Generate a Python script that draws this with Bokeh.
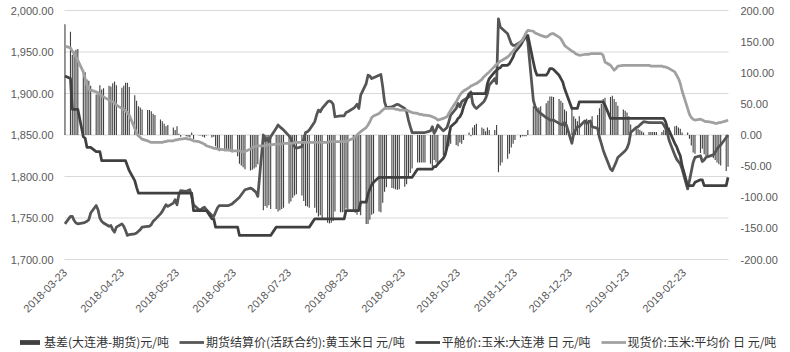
import pandas as pd
from math import pi
from bokeh.plotting import figure
from bokeh.core.properties import value
from bokeh.models import Range1d, Legend, LegendItem, ColumnDataSource
from bokeh.embed import file_html
from bokeh.resources import INLINE

# trading days (weekdays) 2018-03-23 .. 2019-03-19
dates = pd.bdate_range("2018-03-23", "2019-03-19")

tick_labels = ["2018-03-23", "2018-04-23", "2018-05-23", "2018-06-23", "2018-07-23",
               "2018-08-23", "2018-09-23", "2018-10-23", "2018-11-23", "2018-12-23",
               "2019-01-23", "2019-02-23"]
left_ticks = [1700, 1750, 1800, 1850, 1900, 1950, 2000]
right_ticks = [-200, -150, -100, -50, 0, 50, 100, 150, 200]

# 期货结算价(活跃合约):黄玉米 (元/吨) - one row per week (Fri, Mon, Tue, Wed, Thu)
futures = [
    1743, 1752, 1752, 1747, 1744,
    1743, 1744, 1745, 1746, 1748,
    1756, 1765, 1760, 1750, 1746,
    1744, 1740, 1741, 1736, 1733,
    1739, 1743, 1740, 1735, 1729,
    1730, 1731, 1732, 1734, 1736,
    1739, 1740, 1740, 1742, 1746,
    1748, 1755, 1758, 1762, 1766,
    1764, 1768, 1772, 1766, 1778,
    1783, 1782, 1783, 1784, 1776,
    1766, 1760, 1760, 1762, 1763,
    1760, 1753, 1752, 1757, 1762,
    1765, 1765, 1765, 1765, 1766,
    1767, 1773, 1775, 1778, 1781,
    1784, 1786, 1785, 1783, 1781,
    1776, 1850, 1843, 1846, 1842,
    1848, 1858, 1862, 1860, 1858,
    1856, 1849, 1846, 1840, 1836,
    1834, 1836, 1845, 1853, 1854,
    1856, 1866, 1874, 1880, 1878,
    1882, 1890, 1891, 1890, 1887,
    1872, 1873, 1873, 1873, 1877,
    1878, 1882, 1884, 1887, 1882,
    1898, 1912, 1922, 1921, 1918,
    1919, 1922, 1923, 1908, 1890,
    1883, 1884, 1885, 1886, 1887,
    1886, 1882, 1878, 1868, 1860,
    1853, 1853, 1853, 1853, 1853,
    1853, 1855, 1860, 1852, 1856,
    1862, 1855, 1857, 1859, 1866,
    1874, 1882, 1888, 1884, 1890,
    1892, 1896, 1902, 1888, 1884,
    1882, 1888, 1890, 1894, 1900,
    1910, 1918, 1912, 1990, 1980,
    1978, 1972, 1966, 1960, 1958,
    1958, 1962, 1964, 1968, 1970,
    1962, 1892, 1884, 1880, 1878,
    1876, 1871, 1870, 1868, 1868,
    1868, 1864, 1863, 1862, 1865,
    1862, 1840, 1852, 1856, 1860,
    1860, 1867, 1864, 1866, 1867,
    1860, 1858, 1847, 1840, 1832,
    1826, 1809, 1807, 1812, 1817,
    1823, 1829, 1831, 1834, 1840,
    1853, 1859, 1860, 1862, 1864,
    1866, 1865, 1865, 1865, 1865,
    1865, 1865, 1862, 1858, 1852,
    1843, 1826, 1821, 1818, 1815,
    1809, 1785, 1795, 1806, 1817,
    1823, 1825, 1818, 1820, 1823,
    1824, 1826, 1829, 1833, 1836,
    1838, 1847, 1850,
]

# 平舱价:玉米:大连港 (元/吨)
port = [
    1921, 1918, 1881, 1881, 1881,
    1881, 1848, 1846, 1835, 1835,
    1835, 1830, 1830, 1830, 1819,
    1819, 1819, 1819, 1819, 1819,
    1819, 1819, 1819, 1819, 1813,
    1807, 1795, 1787, 1780, 1780,
    1780, 1780, 1780, 1780, 1780,
    1780, 1780, 1780, 1780, 1780,
    1780, 1780, 1780, 1780, 1780,
    1780, 1780, 1780, 1780, 1780,
    1759, 1759, 1759, 1759, 1759,
    1759, 1749, 1749, 1739, 1739,
    1739, 1739, 1739, 1739, 1739,
    1739, 1739, 1729, 1729, 1729,
    1729, 1729, 1729, 1729, 1729,
    1729, 1729, 1729, 1729, 1729,
    1729, 1739, 1739, 1739, 1739,
    1739, 1739, 1739, 1739, 1739,
    1739, 1739, 1739, 1739, 1739,
    1739, 1749, 1749, 1749, 1749,
    1749, 1749, 1749, 1749, 1749,
    1749, 1749, 1749, 1749, 1759,
    1759, 1759, 1759, 1759, 1759,
    1769, 1769, 1779, 1785, 1790,
    1793, 1799, 1799, 1799, 1799,
    1799, 1799, 1799, 1799, 1799,
    1799, 1799, 1799, 1799, 1799,
    1799, 1809, 1809, 1809, 1809,
    1809, 1809, 1809, 1812, 1812,
    1815, 1822, 1826, 1835, 1848,
    1860, 1866, 1870, 1872, 1876,
    1884, 1900, 1900, 1900, 1900,
    1900, 1900, 1900, 1900, 1912,
    1918, 1926, 1928, 1930, 1931,
    1934, 1934, 1936, 1940, 1944,
    1950, 1958, 1962, 1966, 1968,
    1970, 1938, 1928, 1922, 1922,
    1922, 1922, 1925, 1930, 1930,
    1929, 1922, 1918, 1914, 1906,
    1900, 1882, 1882, 1882, 1882,
    1890, 1890, 1890, 1890, 1890,
    1890, 1890, 1890, 1890, 1890,
    1886, 1870, 1870, 1870, 1870,
    1870, 1870, 1870, 1870, 1870,
    1870, 1870, 1870, 1870, 1870,
    1870, 1870, 1870, 1870, 1870,
    1870, 1870, 1870, 1866, 1858,
    1855, 1840, 1836, 1830, 1825,
    1813, 1789, 1789, 1789, 1789,
    1793, 1796, 1796, 1789, 1789,
    1789, 1789, 1789, 1789, 1789,
    1789, 1789, 1799,
]

# 现货价:玉米:平均价 (元/吨)
spot = [
    1957, 1955, 1951, 1948, 1944,
    1940, 1926, 1918, 1910, 1905,
    1904, 1902, 1900, 1899, 1897,
    1896, 1892, 1891, 1890, 1889,
    1886, 1882, 1881, 1879, 1877,
    1874, 1858, 1852, 1849, 1847,
    1845, 1843, 1842, 1841, 1841,
    1841, 1841, 1841, 1842, 1842,
    1843, 1843, 1844, 1844, 1845,
    1845, 1846, 1845, 1845, 1844,
    1843, 1842, 1841, 1840, 1839,
    1837, 1835, 1834, 1834, 1833,
    1833, 1832, 1832, 1832, 1832,
    1831, 1831, 1831, 1830, 1830,
    1830, 1833, 1835, 1836, 1836,
    1837, 1837, 1837, 1838, 1838,
    1838, 1839, 1839, 1839, 1839,
    1840, 1840, 1840, 1840, 1841,
    1841, 1841, 1841, 1841, 1841,
    1841, 1841, 1841, 1841, 1841,
    1841, 1841, 1842, 1842, 1842,
    1842, 1842, 1842, 1842, 1842,
    1843, 1846, 1848, 1850, 1852,
    1854, 1859, 1862, 1866, 1871,
    1873, 1876, 1878, 1880, 1882,
    1882, 1882, 1882, 1881, 1881,
    1880, 1880, 1880, 1879, 1878,
    1877, 1876, 1875, 1875, 1874,
    1874, 1873, 1872, 1871, 1870,
    1868, 1870, 1871, 1872, 1876,
    1880, 1890, 1894, 1898, 1901,
    1903, 1907, 1909, 1910, 1911,
    1912, 1917, 1920, 1922, 1924,
    1926, 1933, 1935, 1937, 1939,
    1940, 1944, 1946, 1949, 1951,
    1954, 1962, 1964, 1968, 1973,
    1976, 1975, 1973, 1972, 1971,
    1970, 1968, 1969, 1971, 1972,
    1972, 1968, 1966, 1962, 1958,
    1956, 1951, 1950, 1948, 1947,
    1946, 1947, 1947, 1947, 1948,
    1948, 1948, 1948, 1948, 1946,
    1938, 1934, 1931, 1928, 1930,
    1933, 1934, 1934, 1934, 1934,
    1934, 1934, 1934, 1934, 1934,
    1934, 1934, 1933, 1933, 1933,
    1933, 1933, 1932, 1932, 1931,
    1930, 1926, 1922, 1918, 1912,
    1903, 1882, 1875, 1871, 1869,
    1868, 1869, 1868, 1867, 1866,
    1866, 1865, 1864, 1864, 1865,
    1865, 1867, 1868,
]

legend_labels = ["基差(大连港-期货)元/吨", "期货结算价(活跃合约):黄玉米日 元/吨",
                 "平舱价:玉米:大连港 日 元/吨", "现货价:玉米:平均价 日 元/吨"]

n = len(dates)
assert len(futures) == n and len(port) == n and len(spot) == n

# 基差(大连港-期货) = 平舱价 - 期货结算价
basis = [pt - ft for pt, ft in zip(port, futures)]

src = ColumnDataSource(dict(date=dates, futures=futures, port=port, spot=spot, basis=basis))

def ms(s):
    return pd.Timestamp(s).value // 10**6

NUM_FONT = "Liberation Sans"
CJK_FONT = "Noto Sans CJK SC"
AX_COLOR = "#595959"
GRID_C = "#d9d9d9"
BAR_C, FUT_C, PORT_C, SPOT_C = "#404040", "#555555", "#404040", "#a0a0a0"
LW = 2.75

# page geometry: plot area inset inside the 790x352 canvas
W, H = 790, 352
PL, PR, PT, PB = 64, 62, 10, 93
FW, FH = W - PL - PR, H - PT - PB

t0 = ms("2018-03-23") - 6 * 3600 * 1000
t1 = ms("2019-03-19") + 6 * 3600 * 1000
sx = (t1 - t0) / FW
y0, y1 = left_ticks[0], left_ticks[-1]
r0, r1 = right_ticks[0], right_ticks[-1]
sy = (y1 - y0) / FH
sr = (r1 - r0) / FH

p = figure(width=W, height=H, output_backend="svg", toolbar_location=None,
           x_range=Range1d(t0 - PL * sx, t1 + PR * sx),
           y_range=Range1d(y0 - PB * sy, y1 + PT * sy),
           x_axis_location=None, y_axis_location=None,
           min_border=0, min_border_left=0, min_border_right=0,
           min_border_top=0, min_border_bottom=0)
p.extra_y_ranges = {"basis": Range1d(r0 - PB * sr, r1 + PT * sr)}
p.outline_line_color = None
p.grid.grid_line_color = None
p.background_fill_color = "white"
p.border_fill_color = "white"

# horizontal gridlines across the plot area
p.segment(x0=[t0] * len(left_ticks), x1=[t1] * len(left_ticks), y0=left_ticks, y1=left_ticks,
          line_color=GRID_C, line_width=1)

r_bar = p.vbar(x="date", top="basis", bottom=0, width=0.6 * 86400000, source=src,
               y_range_name="basis", fill_color=BAR_C, line_color=None)
r_fut = p.line(x="date", y="futures", source=src, line_color=FUT_C, line_width=LW,
               line_join="round")
r_port = p.line(x="date", y="port", source=src, line_color=PORT_C, line_width=LW,
                line_join="round")
r_spot = p.line(x="date", y="spot", source=src, line_color=SPOT_C, line_width=LW,
                line_join="round")

# left axis labels
p.text(x=[t0] * len(left_ticks), y=left_ticks, text=[f"{v:,.2f}" for v in left_ticks],
       x_offset=-11, text_align="right", text_baseline="middle",
       text_font=value(NUM_FONT), text_font_size=value("11px"), text_color=AX_COLOR)
# right axis labels
p.text(x=[t1] * len(right_ticks), y=right_ticks, text=[f"{v:,.2f}" for v in right_ticks],
       y_range_name="basis", x_offset=12, text_align="left", text_baseline="middle",
       text_font=value(NUM_FONT), text_font_size=value("11px"), text_color=AX_COLOR)
# date labels, rotated 45 degrees, ending at their date
p.text(x=[ms(t) for t in tick_labels], y=[y0] * len(tick_labels), text=tick_labels,
       angle=pi / 4, y_offset=11, text_align="right", text_baseline="middle",
       text_font=value(NUM_FONT), text_font_size=value("11px"), text_color=AX_COLOR)

legend = Legend(items=[LegendItem(label=lab, renderers=[r])
                       for lab, r in zip(legend_labels, [r_bar, r_fut, r_port, r_spot])],
                orientation="horizontal", location=(17, 2))
legend.label_text_font = CJK_FONT
legend.label_text_font_size = "12px"
legend.label_text_color = "#333333"
legend.glyph_width = 25
legend.glyph_height = 6
legend.label_height = 14
legend.label_standoff = 2
legend.spacing = 10
legend.padding = 0
legend.margin = 0
legend.border_line_color = None
legend.background_fill_alpha = 0
p.add_layout(legend, "center")

open("out.html", "w").write(file_html(p, INLINE))
